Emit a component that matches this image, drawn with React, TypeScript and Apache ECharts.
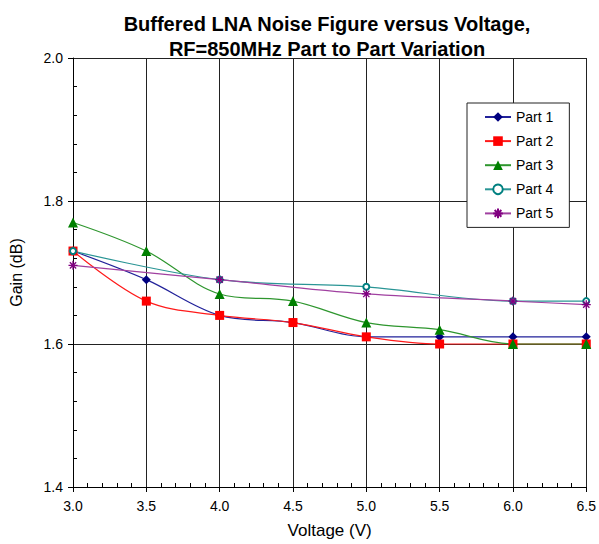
import React, { useEffect, useRef } from "react";
import * as echarts from "echarts";

const voltages = [3.0, 3.5, 4.0, 4.5, 5.0, 5.5, 6.0, 6.5];
const part1 = [1.73, 1.69, 1.64, 1.63, 1.61, 1.61, 1.61, 1.61];
const part2 = [1.73, 1.66, 1.64, 1.63, 1.61, 1.60, 1.60, 1.60];
const part3 = [1.77, 1.73, 1.67, 1.66, 1.63, 1.62, 1.60, 1.60];
const part4V = [3.0, 4.0, 5.0, 6.0, 6.5];
const part4 = [1.73, 1.69, 1.68, 1.66, 1.66];
const part5V = [3.0, 4.0, 5.0, 6.0, 6.5];
const part5 = [1.71, 1.69, 1.67, 1.66, 1.655];
const seriesNames = ["Part 1", "Part 2", "Part 3", "Part 4", "Part 5"];

const zip = (xs: number[], ys: number[]) => xs.map((x, i) => [x, ys[i]]);

const asterisk = "path://M0,5L10,5M5,0L5,10M1.5,1.5L8.5,8.5M8.5,1.5L1.5,8.5";
const FONT = "Liberation Sans, Arial, Helvetica, sans-serif";

export default function App() {
  const ref = useRef<HTMLDivElement>(null);
  useEffect(() => {
    const chart = echarts.init(ref.current!, null, { renderer: "svg" });
    const smooth = 0.35;
    const minorAxisX = {
      type: "value",
      min: 3.0,
      max: 6.5,
      interval: 0.5,
      position: "bottom",
      axisLine: { show: false },
      axisTick: { show: true, inside: true, length: 0 },
      axisLabel: { show: false },
      splitLine: { show: false },
      minorTick: { show: true, splitNumber: 5, length: 4, lineStyle: { color: "#000" } },
    };
    const minorAxisY = {
      type: "value",
      min: 1.4,
      max: 2.0,
      interval: 0.2,
      position: "left",
      axisLine: { show: false },
      axisTick: { show: true, inside: true, length: 0 },
      axisLabel: { show: false },
      splitLine: { show: false },
      minorTick: { show: true, splitNumber: 5, length: 4, lineStyle: { color: "#000" } },
    };
    chart.setOption({
      animation: false,
      backgroundColor: "#ffffff",
      title: {
        text: "Buffered LNA Noise Figure versus Voltage,\nRF=850MHz Part to Part Variation",
        left: 322,
        textAlign: "center",
        top: 6,
        textStyle: { fontFamily: FONT, fontSize: 20, fontWeight: "bold", color: "#000", lineHeight: 25 },
      },
      legend: {
        orient: "vertical",
        left: 467,
        top: 103,
        padding: [7, 16, 7, 17],
        itemGap: 10.1,
        itemWidth: 26,
        itemHeight: 12,
        backgroundColor: "#fff",
        borderColor: "#222",
        borderWidth: 1,
        textStyle: { fontFamily: FONT, fontSize: 14, color: "#000" },
        data: seriesNames,
      },
      grid: { left: 73, top: 58, width: 514, height: 432, containLabel: false },
      xAxis: [
        {
          type: "value",
          min: 3.0,
          max: 6.5,
          interval: 0.5,
          name: "Voltage (V)",
          nameLocation: "middle",
          nameGap: 35,
          nameTextStyle: { fontFamily: FONT, fontSize: 17, color: "#000" },
          axisLine: { show: true, lineStyle: { color: "#000", width: 1 } },
          axisTick: { show: true, length: 5, inside: false, lineStyle: { color: "#000" } },
          axisLabel: { fontFamily: FONT, fontSize: 14, color: "#000", margin: 12, formatter: (v: number) => v.toFixed(1) },
          splitLine: { show: true, lineStyle: { color: "#222", width: 1 } },
        },
        minorAxisX,
      ],
      yAxis: [
        {
          type: "value",
          min: 1.4,
          max: 2.0,
          interval: 0.2,
          name: "Gain (dB)",
          nameLocation: "middle",
          nameGap: 49,
          nameTextStyle: { fontFamily: FONT, fontSize: 16, color: "#000" },
          axisLine: { show: true, lineStyle: { color: "#000", width: 1 } },
          axisTick: { show: true, length: 5, lineStyle: { color: "#000" } },
          axisLabel: { fontFamily: FONT, fontSize: 14, color: "#000", margin: 10, formatter: (v: number) => v.toFixed(1) },
          splitLine: { show: true, lineStyle: { color: "#222", width: 1 } },
        },
        minorAxisY,
      ],
      series: [
        {
          name: "Part 1",
          type: "line",
          data: zip(voltages, part1),
          smooth,
          symbol: "diamond",
          symbolSize: 9,
          lineStyle: { color: "#22229a", width: 1.2 },
          itemStyle: { color: "#000080" },
        },
        {
          name: "Part 2",
          type: "line",
          data: zip(voltages, part2),
          smooth,
          symbol: "rect",
          symbolSize: 9,
          lineStyle: { color: "#ff1a1a", width: 1.2 },
          itemStyle: { color: "#ff0000" },
        },
        {
          name: "Part 3",
          type: "line",
          data: zip(voltages, part3),
          smooth,
          symbol: "triangle",
          symbolSize: 10,
          lineStyle: { color: "#2e962e", width: 1.2 },
          itemStyle: { color: "#008000" },
        },
        {
          name: "Part 4",
          type: "line",
          data: zip(part4V, part4),
          smooth,
          symbol: "emptyCircle",
          symbolSize: 6,
          lineStyle: { color: "#2a9595", width: 1.2 },
          itemStyle: { color: "#008080", borderWidth: 1 },
        },
        {
          name: "Part 5",
          type: "line",
          data: zip(part5V, part5),
          smooth,
          symbol: asterisk,
          symbolSize: 9,
          lineStyle: { color: "#a040a0", width: 1.2 },
          itemStyle: { color: "rgba(0,0,0,0)", borderColor: "#800080", borderWidth: 1.3 },
        },
      ],
    });
    return () => chart.dispose();
  }, []);
  return <div ref={ref} style={{ position: "fixed", left: 0, top: 0, width: 599, height: 544 }} />;
}
